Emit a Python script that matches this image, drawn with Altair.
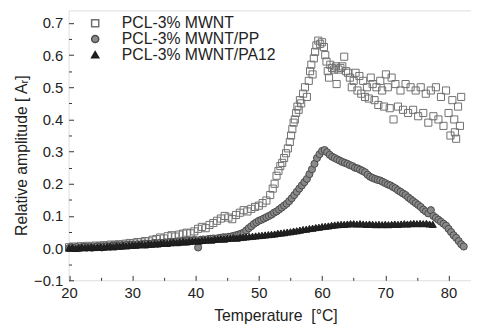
import altair as alt
import pandas as pd

# ---------------- data ----------------
series_names = ["PCL-3% MWNT", "PCL-3% MWNT/PP", "PCL-3% MWNT/PA12"]

sq_t = [20.0, 20.6, 21.2, 21.8, 22.4, 23.0, 23.6, 24.2, 24.8, 25.4, 26.0, 26.6, 27.2, 27.8, 28.4,
        29.0, 29.6, 30.2, 30.8, 31.4, 32.0, 32.6, 33.2, 33.8, 34.4, 35.0, 35.6, 36.2, 36.8, 37.4,
        38.0, 38.6, 39.2, 39.8, 40.4, 41.0, 41.6, 42.2, 42.8, 43.4, 44.0, 44.6, 45.2, 45.8, 46.4,
        47.0, 47.6, 48.2, 48.8, 49.4, 50.0, 50.6, 51.2, 51.8, 52.2, 52.5, 52.8, 53.1, 53.4, 53.7,
        54.0, 54.3, 54.6, 54.9, 55.1, 55.3, 55.5, 55.7, 55.9, 56.1, 56.3, 56.5, 56.7, 57.0, 57.3,
        57.6, 57.9, 58.1, 58.3, 58.5, 58.7, 58.9, 59.1, 59.4, 59.7, 60.0, 60.3, 60.5, 60.7, 60.9,
        61.1, 61.3, 61.6, 61.9, 62.2, 62.3, 62.6, 62.9, 63.2, 63.5, 63.8, 64.1, 64.4, 64.7, 65.0,
        65.3, 65.6, 65.9, 66.2, 66.5, 66.8, 67.1, 67.4, 67.7, 68.0, 68.3, 68.6, 68.9, 69.2, 69.5,
        69.8, 70.1, 70.4, 70.7, 71.0, 71.3, 71.6, 72.0, 72.4, 72.8, 73.2, 73.6, 74.0, 74.4, 74.8,
        75.2, 75.6, 76.0, 76.4, 76.8, 77.2, 77.6, 78.0, 78.4, 78.8, 79.2, 79.6, 80.0, 80.3, 80.6,
        80.9, 81.2, 81.5, 81.8, 82.0, 81.0]
sq_v = [0.003, 0.005, 0.002, 0.006, 0.004, 0.007, 0.005, 0.008, 0.006, 0.009, 0.008, 0.011, 0.010, 0.012, 0.011,
        0.014, 0.016, 0.015, 0.019, 0.018, 0.022, 0.021, 0.026, 0.028, 0.033, 0.030, 0.037, 0.040, 0.036, 0.042,
        0.045, 0.048, 0.046, 0.052, 0.060, 0.066, 0.062, 0.072, 0.078, 0.085, 0.092, 0.100, 0.095, 0.090, 0.103,
        0.110, 0.118, 0.114, 0.122, 0.128, 0.132, 0.140, 0.148, 0.165, 0.185, 0.200, 0.225, 0.240, 0.255, 0.265,
        0.280, 0.295, 0.310, 0.330, 0.350, 0.370, 0.390, 0.400, 0.420, 0.440, 0.430, 0.460, 0.450, 0.480, 0.500,
        0.470, 0.520, 0.550, 0.570, 0.540, 0.590, 0.610, 0.630, 0.645, 0.635, 0.640, 0.625, 0.600, 0.580, 0.550,
        0.530, 0.570, 0.560, 0.555, 0.565, 0.510, 0.555, 0.560, 0.565, 0.595, 0.550, 0.545, 0.530, 0.500, 0.520,
        0.545, 0.490, 0.535, 0.480, 0.520, 0.470, 0.500, 0.465, 0.530, 0.510, 0.460, 0.500, 0.445, 0.520, 0.490,
        0.440, 0.540, 0.500, 0.435, 0.530, 0.400, 0.510, 0.440, 0.490, 0.430, 0.510, 0.420, 0.500, 0.430, 0.490,
        0.410, 0.500, 0.420, 0.480, 0.390, 0.490, 0.410, 0.500, 0.400, 0.470, 0.380, 0.490, 0.420, 0.350, 0.460,
        0.400, 0.340, 0.440, 0.380, 0.470, 0.360]

ci_t = [round(20.0 + 0.4 * i, 1) for i in range(157)]
ci_v = [0.000, 0.002, 0.001, 0.003, 0.000, 0.002, 0.004, 0.002, 0.003, 0.001,
        0.003, 0.005, 0.004, 0.002, 0.005, 0.006, 0.004, 0.007, 0.006, 0.008,
        0.007, 0.009, 0.008, 0.010, 0.009, 0.011, 0.010, 0.012, 0.011, 0.013,
        0.012, 0.014, 0.013, 0.015, 0.016, 0.014, 0.017, 0.016, 0.018, 0.017,
        0.019, 0.018, 0.020, 0.021, 0.019, 0.022, 0.021, 0.023, 0.022, 0.024,
        0.025, 0.002, 0.026, 0.027, 0.026, 0.028, 0.029, 0.030, 0.029, 0.031,
        0.032, 0.034, 0.033, 0.035, 0.036, 0.038, 0.040, 0.042, 0.045, 0.048,
        0.055, 0.062, 0.068, 0.075, 0.080, 0.085, 0.088, 0.092, 0.096, 0.100,
        0.104, 0.110, 0.114, 0.120, 0.126, 0.132, 0.138, 0.146, 0.155, 0.165,
        0.175, 0.185, 0.195, 0.205, 0.215, 0.230, 0.245, 0.262, 0.280, 0.292,
        0.302, 0.305, 0.298, 0.290, 0.284, 0.280, 0.276, 0.272, 0.268, 0.265,
        0.262, 0.258, 0.255, 0.250, 0.248, 0.244, 0.240, 0.236, 0.228, 0.222,
        0.218, 0.215, 0.212, 0.210, 0.206, 0.202, 0.198, 0.195, 0.190, 0.186,
        0.180, 0.175, 0.170, 0.165, 0.158, 0.152, 0.146, 0.140, 0.134, 0.128,
        0.120, 0.114, 0.108, 0.118, 0.100, 0.094, 0.088, 0.082, 0.076, 0.070,
        0.060, 0.050, 0.040, 0.032, 0.022, 0.012, 0.005]

tr_t = [round(20.0 + 0.5 * i, 1) for i in range(116)]
tr_v = [0.000, 0.002, -0.001, 0.001, 0.003, 0.001, 0.002, 0.004, 0.002, 0.003,
        0.004, 0.003, 0.005, 0.006, 0.004, 0.007, 0.006, 0.008, 0.007, 0.009,
        0.010, 0.009, 0.011, 0.012, 0.010, 0.013, 0.012, 0.014, 0.013, 0.015,
        0.016, 0.015, 0.017, 0.018, 0.017, 0.019, 0.020, 0.019, 0.021, 0.022,
        0.023, 0.022, 0.024, 0.025, 0.026, 0.025, 0.027, 0.028, 0.029, 0.028,
        0.030, 0.031, 0.032, 0.031, 0.033, 0.034, 0.035, 0.036, 0.037, 0.038,
        0.039, 0.040, 0.041, 0.042, 0.043, 0.044, 0.046, 0.047, 0.048, 0.050,
        0.051, 0.053, 0.054, 0.056, 0.058, 0.059, 0.061, 0.062, 0.064, 0.065,
        0.067, 0.068, 0.069, 0.071, 0.072, 0.073, 0.074, 0.074, 0.075, 0.076,
        0.076, 0.075, 0.076, 0.075, 0.074, 0.075, 0.074, 0.073, 0.074, 0.073,
        0.074, 0.073, 0.074, 0.075, 0.074, 0.075, 0.076, 0.075, 0.076, 0.077,
        0.076, 0.077, 0.076, 0.077, 0.075, 0.074]

x_ticks = [20, 25, 30, 35, 40, 45, 50, 55, 60, 65, 70, 75, 80]
y_ticks = [-0.1, -0.05, 0.0, 0.05, 0.1, 0.15, 0.2, 0.25, 0.3, 0.35, 0.4, 0.45, 0.5, 0.55, 0.6, 0.65, 0.7]

# ---------------- table ----------------
rows = []
for t, v in zip(sq_t, sq_v):
    rows.append({"T": t, "A": v, "s": series_names[0]})
for t, v in zip(ci_t, ci_v):
    rows.append({"T": t, "A": v, "s": series_names[1]})
for t, v in zip(tr_t, tr_v):
    rows.append({"T": t, "A": v, "s": series_names[2]})
df = pd.DataFrame(rows)

FONT = "Liberation Sans"

legend = alt.Legend(
    title=None, orient="none", legendX=19, legendY=5, padding=0,
    labelFont=FONT, labelFontSize=16, labelColor="#222", labelOffset=19,
    rowPadding=0, labelLimit=300,
)

chart = alt.Chart(df).mark_point(filled=False, strokeWidth=1, opacity=1).encode(
    x=alt.X("T:Q", scale=alt.Scale(domain=[19.92, 83.55], nice=False, zero=False),
            axis=alt.Axis(values=x_ticks, title="Temperature \u00a0[°C]", grid=False, domain=False,
                          tickSize=alt.ExprRef("datum.value % 10 === 0 ? -5 : -3"),
                          tickColor="#333", tickWidth=1,
                          labelExpr="datum.value % 10 === 0 ? datum.label : ''",
                          labelFont=FONT, labelFontSize=15, labelColor="#222", labelPadding=10,
                          labelFlush=False, labelOverlap=False,
                          titleFont=FONT, titleFontSize=16, titleFontWeight="normal", titleColor="#222",
                          titleX=210, titleY=41, titleBaseline="alphabetic", titleAlign="center")),
    y=alt.Y("A:Q", scale=alt.Scale(domain=[-0.1, 0.739], nice=False, zero=False),
            axis=alt.Axis(values=y_ticks, title="Relative amplitude [ Aᵣ]", grid=False, domain=False,
                          tickSize=alt.ExprRef("abs(round(datum.value*100)) % 10 === 0 ? -5 : -3"),
                          tickColor="#333", tickWidth=1,
                          labelExpr="abs(round(datum.value*100)) % 10 === 0 ? format(datum.value, '.1f') : ''",
                          labelFont=FONT, labelFontSize=15, labelColor="#222", labelPadding=11,
                          labelFlush=False, labelOverlap=False,
                          titleFont=FONT, titleFontSize=16, titleFontWeight="normal", titleColor="#222",
                          titleX=-43, titleY=147, titleBaseline="alphabetic", titleAlign="center",
                          titleAngle=270)),
    shape=alt.Shape("s:N", scale=alt.Scale(domain=series_names, range=["square", "circle", "triangle-up"]),
                    legend=legend),
    fill=alt.Fill("s:N", scale=alt.Scale(domain=series_names, range=["transparent", "#8a8a8a", "#222222"]),
                  legend=legend),
    stroke=alt.Stroke("s:N", scale=alt.Scale(domain=series_names, range=["#707070", "#4a4a4a", "#1a1a1a"]),
                      legend=legend),
    size=alt.Size("s:N", scale=alt.Scale(domain=series_names, range=[52, 52, 38]), legend=legend),
    order=alt.Order("idx:Q"),
).transform_window(idx="row_number()").properties(
    width=408.5, height=274,
    autosize=alt.AutoSizeParams(type="none"),
    padding={"left": 61.5, "top": 0, "right": 0, "bottom": 46},
).configure_view(stroke="#3a3a3a", strokeWidth=1.6).configure(background="white")

chart.save("out.html", embed_options={"renderer": "svg", "actions": False})
